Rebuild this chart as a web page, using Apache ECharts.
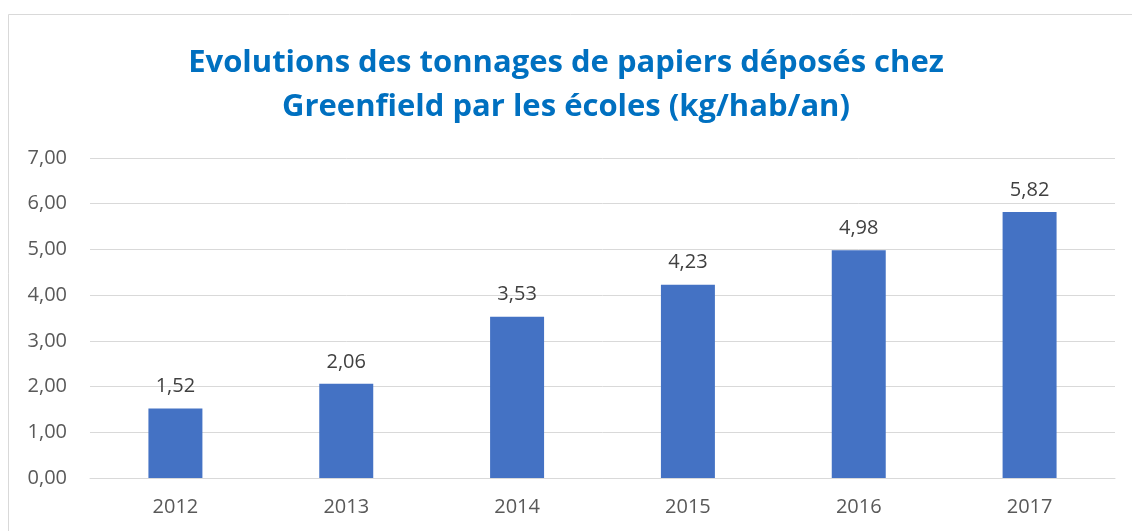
<!DOCTYPE html>
<html>
<head>
<meta charset="utf-8">
<script src="https://cdn.jsdelivr.net/npm/echarts@6/dist/echarts.min.js"></script>
<style>
  html, body { margin: 0; padding: 0; background: #fff; }
  #main { width: 1132px; height: 531px; }
</style>
</head>
<body>
<div id="main"></div>
<script>
var years = ['2012', '2013', '2014', '2015', '2016', '2017'];
var tonnages = [1.52, 2.06, 3.53, 4.23, 4.98, 5.82];

function frNum(v) {
    return v.toFixed(2).replace('.', ',');
}

var chart = echarts.init(document.getElementById('main'));
var option = {
    backgroundColor: '#fff',
    animation: false,
    title: {
        text: 'Evolutions des tonnages de papiers déposés chez\nGreenfield par les écoles (kg/hab/an)',
        left: 'center',
        top: 36,
        textStyle: {
            color: '#0070C0',
            fontFamily: 'Open Sans',
            fontWeight: 'bold',
            fontSize: 31,
            lineHeight: 44
        }
    },
    graphic: [{
        type: 'rect',
        shape: { x: 8.5, y: 14.5, width: 1200, height: 600 },
        style: { fill: 'none', stroke: '#d9d9d9', lineWidth: 1 },
        silent: true
    }],
    grid: { left: 90, right: 17, top: 158, bottom: 53 },
    xAxis: {
        type: 'category',
        data: years,
        axisLine: { lineStyle: { color: '#d9d9d9', width: 1 } },
        axisTick: { show: false },
        axisLabel: { color: '#595959', fontSize: 20, fontFamily: 'Open Sans', margin: 19 }
    },
    yAxis: {
        type: 'value',
        min: 0,
        max: 7,
        interval: 1,
        axisLine: { show: false },
        axisTick: { show: false },
        splitLine: { lineStyle: { color: '#d9d9d9', width: 1 } },
        axisLabel: {
            color: '#595959',
            fontSize: 20,
            fontFamily: 'Open Sans',
            margin: 23,
            formatter: function (v) { return frNum(v); }
        }
    },
    series: [{
        type: 'bar',
        data: tonnages,
        barWidth: '31.6%',
        itemStyle: { color: '#4472C4' },
        label: {
            show: true,
            position: 'top',
            distance: 12,
            color: '#404040',
            fontSize: 20,
            fontFamily: 'Open Sans',
            formatter: function (p) { return frNum(p.value); }
        }
    }]
};
chart.setOption(option);
</script>
</body>
</html>
